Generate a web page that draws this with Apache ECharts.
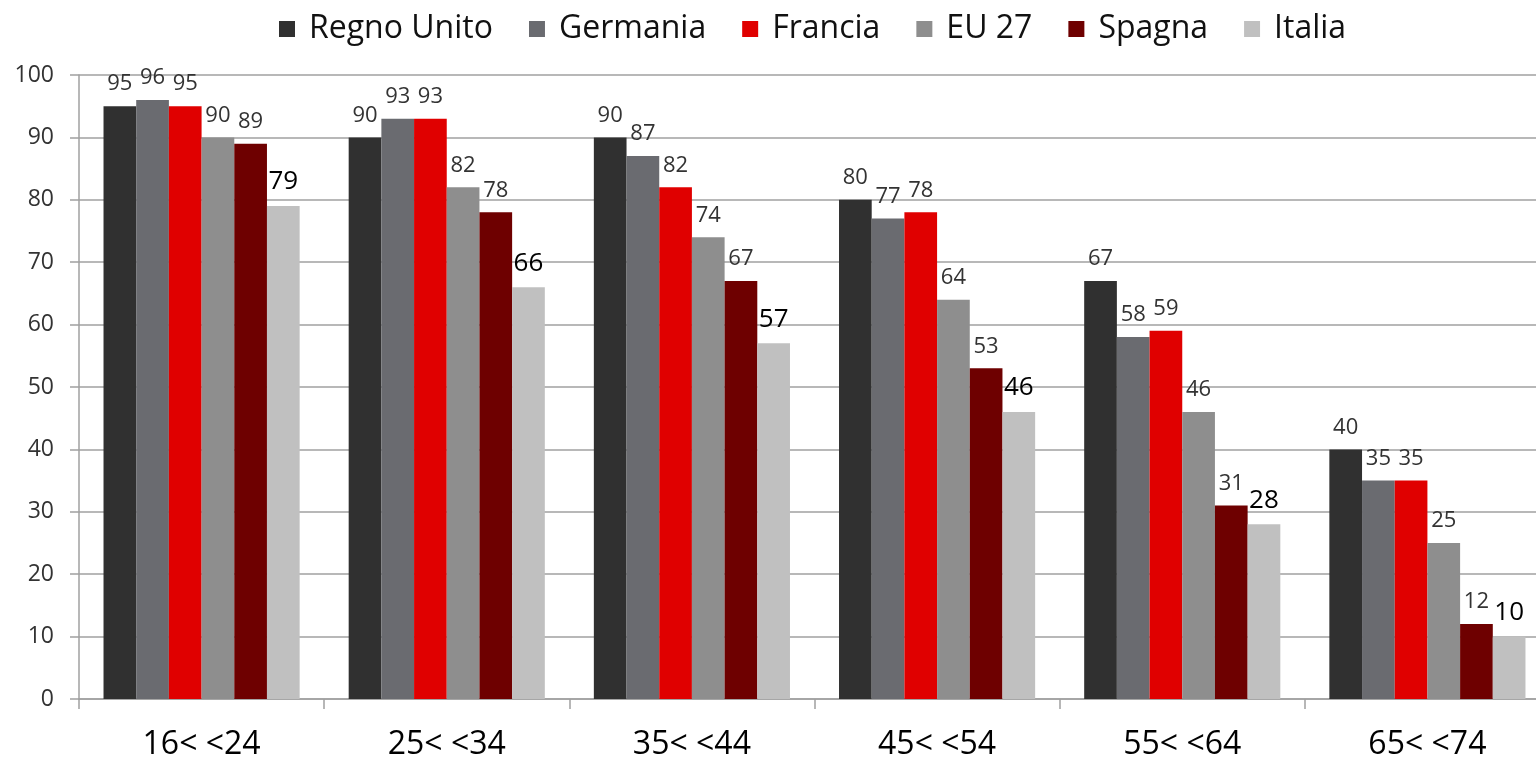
<!DOCTYPE html>
<html>
<head>
<meta charset="utf-8">
<script src="https://cdn.jsdelivr.net/npm/echarts@6/dist/echarts.min.js"></script>
<style>
  html, body { margin: 0; padding: 0; background: #fff; overflow: hidden; }
  #chart { width: 1550px; height: 761px; }
</style>
</head>
<body>
<div id="chart"></div>
<script>
// fasce d'eta
var categories = ['16< <24', '25< <34', '35< <44', '45< <54', '55< <64', '65< <74'];
var seriesNames = ['Regno Unito', 'Germania', 'Francia', 'EU 27', 'Spagna', 'Italia'];
var regnoUnito = [95, 90, 90, 80, 67, 40];
var germania = [96, 93, 87, 77, 58, 35];
var francia = [95, 93, 82, 78, 59, 35];
var eu27 = [90, 82, 74, 64, 46, 25];
var spagna = [89, 78, 67, 53, 31, 12];
var italia = [79, 66, 57, 46, 28, 10];
var yTicks = [0, 10, 20, 30, 40, 50, 60, 70, 80, 90, 100];

var colors = ['#303030', '#6a6b70', '#e00000', '#8e8e8e', '#6e0000', '#c0c0c0'];
var allData = [regnoUnito, germania, francia, eu27, spagna, italia];
var fontFam = '"Open Sans", "DejaVu Sans", sans-serif';

function makeSeries(i) {
    var big = (i === 5);
    return {
        name: seriesNames[i],
        type: 'bar',
        barGap: '0%',
        barCategoryGap: '20%',
        itemStyle: { color: colors[i] },
        label: {
            show: true,
            position: 'top',
            distance: 11,
            color: big ? '#000' : '#333',
            fontSize: big ? 26 : 22,
            fontFamily: fontFam
        },
        data: allData[i]
    };
}

var mychart = echarts.init(document.getElementById('chart'));
var option = {
    animation: false,
    color: colors,
    legend: {
        top: 8,
        left: 274,
        itemWidth: 16,
        itemHeight: 16,
        itemGap: 36,
        icon: 'rect',
        textStyle: {
            fontSize: 32,
            color: '#111',
            fontFamily: fontFam,
            padding: [0, 0, 0, 9]
        },
        data: seriesNames
    },
    grid: {
        left: 79,
        right: 0,
        top: 75,
        bottom: 62
    },
    xAxis: {
        type: 'category',
        data: categories,
        axisLine: { lineStyle: { color: '#a0a0a0', width: 1.5 } },
        axisTick: { show: true, length: 10, lineStyle: { color: '#a0a0a0', width: 1.5 } },
        axisLabel: {
            fontSize: 32,
            color: '#000',
            margin: 30,
            fontFamily: fontFam
        }
    },
    yAxis: {
        type: 'value',
        min: yTicks[0],
        max: yTicks[yTicks.length - 1],
        interval: 10,
        axisLine: { show: true, lineStyle: { color: '#a0a0a0', width: 1.5 } },
        axisTick: { show: true, inside: false, length: 9, lineStyle: { color: '#a0a0a0', width: 1.5 } },
        splitLine: { lineStyle: { color: '#a0a0a0', width: 1.5 } },
        axisLabel: {
            fontSize: 23,
            color: '#333',
            margin: 25,
            fontFamily: fontFam
        }
    },
    series: seriesNames.map(function (n, i) { return makeSeries(i); })
};
mychart.setOption(option);
</script>
</body>
</html>
